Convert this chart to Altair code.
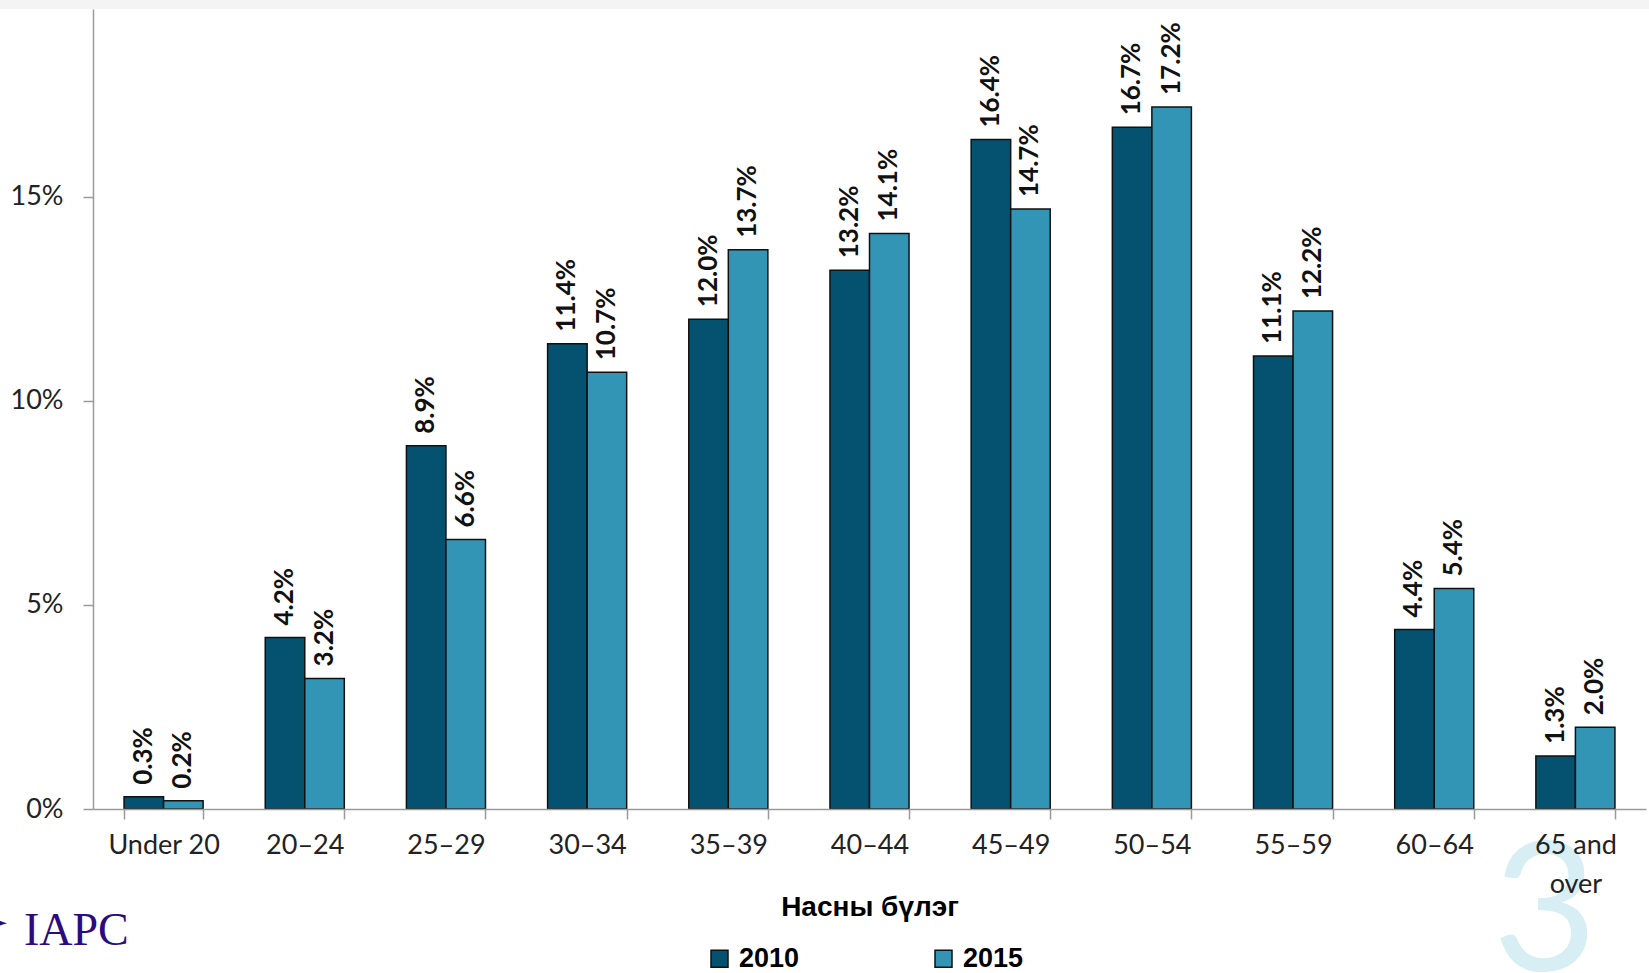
import altair as alt
import pandas as pd

categories = ["Under 20", "20–24", "25–29", "30–34", "35–39", "40–44",
              "45–49", "50–54", "55–59", "60–64", "65 and over"]
years = ["2010", "2015"]
values_2010 = [0.3, 4.2, 8.9, 11.4, 12.0, 13.2, 16.4, 16.7, 11.1, 4.4, 1.3]
values_2015 = [0.2, 3.2, 6.6, 10.7, 13.7, 14.1, 14.7, 17.2, 12.2, 5.4, 2.0]
y_ticks = [0, 5, 10, 15]

rows = []
for c, a, b in zip(categories, values_2010, values_2015):
    rows.append({"age": c, "year": "2010", "value": a})
    rows.append({"age": c, "year": "2015", "value": b})
df = pd.DataFrame(rows)

DARK = "#04526F"
LIGHT = "#3395B5"
AXIS = "#9a9a9a"

W, H = 1553, 800

x_enc = alt.X(
    "age:N", sort=categories,
    scale=alt.Scale(paddingInner=0.44, paddingOuter=0.22),
    axis=alt.Axis(
        title="Насны бүлэг",
        titleFont="Liberation Sans", titleFontSize=28, titleFontWeight="bold",
        titleColor="#000000", titleY=98, titleBaseline="middle",
        labelFont="Lato", labelFontSize=27, labelColor="#222222",
        labelAngle=0, labelPadding=13, labelLineHeight=39,
        labelExpr="datum.label == '65 and over' ? ['65 and', 'over'] : datum.label",
        domainColor=AXIS, domainWidth=1.5, tickColor=AXIS, tickWidth=1.5,
        tickSize=10, tickBand="extent", zindex=2,
    ),
)
y_enc = alt.Y(
    "value:Q",
    scale=alt.Scale(domain=[0, 19.6], nice=False, zero=True),
    axis=alt.Axis(
        title=None, values=y_ticks, labelExpr="datum.value + '%'",
        grid=False, labelFont="Lato", labelFontSize=27, labelColor="#222222",
        labelPadding=20, domainColor=AXIS, domainWidth=1.5, tickColor=AXIS,
        tickWidth=1.5, tickSize=10, zindex=2,
    ),
)
color_enc = alt.Color(
    "year:N",
    scale=alt.Scale(domain=years, range=[DARK, LIGHT]),
    legend=alt.Legend(
        title=None, orient="none", direction="horizontal",
        legendX=613, legendY=936,
        symbolType="square", symbolSize=289, symbolStrokeColor="#111111",
        symbolStrokeWidth=1.5, symbolOpacity=1,
        labelFont="Liberation Sans", labelFontSize=27, labelFontWeight="bold",
        labelColor="#000000", columnPadding=130, labelOffset=6,
    ),
)

base = alt.Chart(df)

bars = base.mark_bar(stroke="#111111", strokeWidth=1.5, opacity=1).encode(
    x=x_enc, xOffset=alt.XOffset("year:N", sort=years), y=y_enc, color=color_enc,
)

labels = base.transform_calculate(
    lab="format(datum.value, '.1f') + '%'"
).mark_text(
    angle=270, align="left", baseline="middle", dx=12,
    font="Lato", fontSize=26, fontWeight="bold", color="#111111",
).encode(
    x=alt.X("age:N", sort=categories), xOffset=alt.XOffset("year:N", sort=years),
    y="value:Q", text="lab:N",
)

watermark = alt.Chart(pd.DataFrame({"t": ["3"]})).mark_text(
    font="Lato", fontSize=180, color="#D6EEF4", align="center", baseline="top",
).encode(x=alt.value(1452), y=alt.value(820), text="t:N")

logo = alt.Chart(pd.DataFrame({"t": ["IAPC"]})).mark_text(
    font="Liberation Serif", fontSize=46, color="#2B0B7E", align="left",
    baseline="alphabetic",
).encode(x=alt.value(-69), y=alt.value(936), text="t:N")

arrow = alt.Chart(pd.DataFrame({"t": ["►"]})).mark_text(
    font="DejaVu Sans", fontSize=18, color="#2B0B7E", align="left",
    baseline="middle",
).encode(x=alt.value(-100), y=alt.value(914), text="t:N")

top_band = alt.Chart(pd.DataFrame({"t": [1]})).mark_rect(color="#f4f4f4").encode(
    x=alt.value(-93), x2=alt.value(W + 3), y=alt.value(-9), y2=alt.value(0),
)

chart = alt.layer(top_band, watermark, logo, arrow, bars, labels).properties(
    width=W, height=H,
    autosize=alt.AutoSizeParams(type="none"),
    padding={"left": 93, "top": 9, "right": 3, "bottom": 164},
    background="white",
).configure_view(stroke=None)

chart.save("out.html", embed_options={"renderer": "svg", "actions": False})
